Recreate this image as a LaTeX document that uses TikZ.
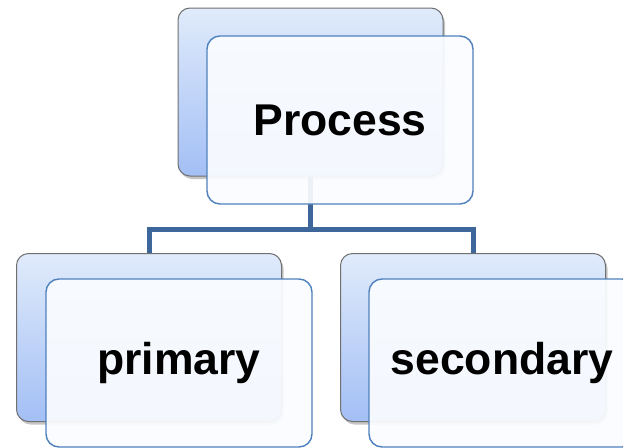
\documentclass[tikz,border=0pt]{standalone}
\usepackage{fontspec}
\setmainfont{Liberation Sans}
\usetikzlibrary{shadows}
\definecolor{backtop}{HTML}{E0EBFB}
\definecolor{backbot}{HTML}{A3BFF5}
\definecolor{backedge}{HTML}{707070}
\definecolor{frontedge}{HTML}{4F81BD}
\definecolor{frontfill}{HTML}{FAFCFF}
\definecolor{connc}{HTML}{3D679B}
\tikzset{
  backbox/.style={draw=backedge, line width=1pt, rounded corners=12pt,
    top color=backtop, bottom color=backbot,
    minimum width=265pt, minimum height=168pt, inner sep=0pt,
    drop shadow={opacity=0.45, shadow xshift=2pt, shadow yshift=-3pt}},
  frontbox/.style={draw=frontedge, line width=1.4pt, rounded corners=13pt,
    fill=frontfill, fill opacity=0.93, text opacity=1,
    minimum width=266pt, minimum height=168pt, inner sep=0pt,
    font=\fontsize{44.5}{50}\selectfont\bfseries},
  conn/.style={draw=connc, line width=5pt}
}
\begin{document}
\begin{tikzpicture}[x=1pt,y=-1pt]
\fill[white] (0,0) rectangle (623,447);
\useasboundingbox (0,0) rectangle (623,447);
% back boxes
\node[backbox] (tb) at (310.5,92) {};
\node[backbox] (lb) at (149,337.5) {};
\node[backbox] (rb) at (473,337.5) {};
% connectors
\coordinate (hub) at (310.5,229);
\draw[conn] (tb.south) -- (hub);
\draw[conn] (hub) -| (lb.north);
\draw[conn] (hub) -| (rb.north);
% front boxes
\node[frontbox] (tf) at (340,120) {Process};
\node[frontbox] (lf) at (179,363) {primary};
\node[frontbox] (rf) at (502,363) {secondary};
\end{tikzpicture}
\end{document}
